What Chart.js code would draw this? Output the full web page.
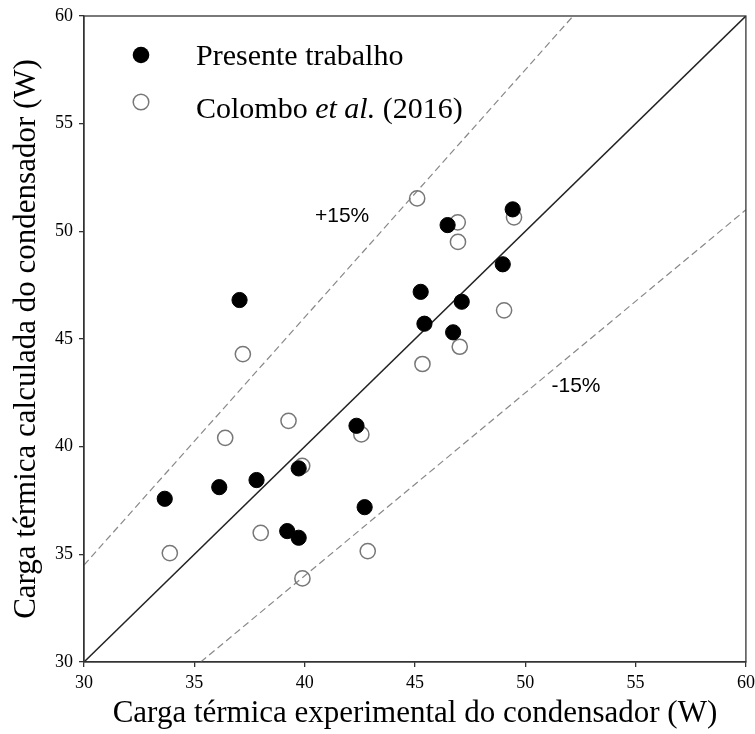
<!DOCTYPE html>
<html>
<head>
<meta charset="utf-8">
<script src="https://cdn.jsdelivr.net/npm/chart.js@4.4.1/dist/chart.umd.min.js"></script>
<style>
html,body{margin:0;padding:0;background:#fff;}
#wrap{width:755px;height:734px;}
</style>
</head>
<body>
<div id="wrap"><canvas id="c" width="755" height="734"></canvas></div>
<script>
// Presente trabalho (filled)
const presenteX = [33.66, 36.13, 37.82, 39.73, 42.35, 42.72, 39.21, 39.73, 37.05, 46.48, 49.43, 48.98, 45.26, 47.12, 45.43, 46.73];
const presenteY = [37.58, 38.12, 38.45, 38.99, 40.97, 37.19, 36.08, 35.77, 46.81, 50.29, 51.02, 48.47, 47.19, 46.73, 45.71, 45.31];
// Colombo et al. (2016) (open)
const colomboX = [39.27, 36.40, 42.57, 39.89, 38.01, 33.89, 39.90, 42.86, 37.20, 45.10, 46.94, 46.95, 49.49, 49.04, 47.03, 45.34];
const colomboY = [41.20, 40.41, 40.57, 39.11, 36.00, 35.06, 33.88, 35.15, 44.30, 51.53, 50.42, 49.51, 50.65, 46.33, 44.64, 43.84];
// Reference lines (y = x, ±15%)
const refX = [30, 60];
const refY = [30, 60];
const plusX = [30, 52.17];
const plusY = [34.5, 60];
const minusX = [35.29, 60];
const minusY = [30, 51];
const ticks = [30, 35, 40, 45, 50, 55, 60];
const legendLabels = ["Presente trabalho", "Colombo", "et al.", "(2016)"];
const annotLabels = [{text: "+15%", x: 41.7, y: 50.7}, {text: "-15%", x: 52.3, y: 42.8}];
const xTitle = "Carga térmica experimental do condensador (W)";
const yTitle = "Carga térmica calculada do condensador (W)";

const pts = (xs, ys) => xs.map((x, i) => ({x: x, y: ys[i]}));

const serif = "'Liberation Serif','DejaVu Serif',serif";

const decor = {
  id: 'decor',
  afterDatasetsDraw(chart) {
    const ctx = chart.ctx, a = chart.chartArea;
    const xs = chart.scales.x, ys = chart.scales.y;
    ctx.save();
    // box
    ctx.strokeStyle = '#333';
    ctx.lineWidth = 1.3;
    ctx.strokeRect(a.left, a.top, a.right - a.left, a.bottom - a.top);
    // annotations
    ctx.fillStyle = '#000';
    ctx.font = "21px 'Liberation Sans', Arial, sans-serif";
    ctx.textAlign = 'center';
    ctx.textBaseline = 'middle';
    annotLabels.forEach(l => ctx.fillText(l.text, xs.getPixelForValue(l.x), ys.getPixelForValue(l.y)));
    // legend
    const mx = 141, tx = 196, y1 = 55, y2 = 102;
    ctx.beginPath();
    ctx.arc(mx, y1, 8.3, 0, Math.PI * 2);
    ctx.fillStyle = '#000';
    ctx.fill();
    ctx.beginPath();
    ctx.arc(mx, y2, 7.8, 0, Math.PI * 2);
    ctx.strokeStyle = '#777';
    ctx.lineWidth = 1.5;
    ctx.stroke();
    ctx.fillStyle = '#000';
    ctx.textAlign = 'left';
    ctx.textBaseline = 'alphabetic';
    ctx.font = "30px " + serif;
    ctx.fillText(legendLabels[0], tx, 65);
    let x = tx;
    ctx.fillText(legendLabels[1] + ' ', x, 118);
    x += ctx.measureText(legendLabels[1] + ' ').width;
    ctx.font = "italic 30px " + serif;
    ctx.fillText(legendLabels[2] + ' ', x, 118);
    x += ctx.measureText(legendLabels[2] + ' ').width;
    ctx.font = "30px " + serif;
    ctx.fillText(legendLabels[3], x, 118);
    ctx.restore();
  }
};

new Chart(document.getElementById('c'), {
  type: 'scatter',
  data: {
    datasets: [
      {label: 'y=x', type: 'line', data: pts(refX, refY), borderColor: '#222', borderWidth: 1.5, pointRadius: 0, fill: false, order: 5},
      {label: '+15%', type: 'line', data: pts(plusX, plusY), borderColor: '#888', borderWidth: 1.2, borderDash: [7, 4], pointRadius: 0, fill: false, order: 4},
      {label: '-15%', type: 'line', data: pts(minusX, minusY), borderColor: '#888', borderWidth: 1.2, borderDash: [7, 4], pointRadius: 0, fill: false, order: 3},
      {label: 'Colombo et al. (2016)', data: pts(colomboX, colomboY), pointRadius: 7.6, pointBackgroundColor: 'rgba(255,255,255,0)', pointBorderColor: '#777', pointBorderWidth: 1.5, order: 2},
      {label: 'Presente trabalho', data: pts(presenteX, presenteY), pointRadius: 7.6, pointBackgroundColor: '#000', pointBorderColor: '#000', pointBorderWidth: 1, order: 1}
    ]
  },
  options: {
    responsive: false,
    animation: false,
    devicePixelRatio: 1,
    layout: {padding: {left: 0, right: 9, top: 16, bottom: 0}},
    plugins: {legend: {display: false}, tooltip: {enabled: false}},
    scales: {
      x: {
        type: 'linear', min: 30, max: 60,
        afterBuildTicks: s => { s.ticks = ticks.map(v => ({value: v})); },
        afterFit: s => { s.height = 72; s.paddingLeft = 0; s.paddingRight = 0; },
        grid: {display: true, drawOnChartArea: false, drawTicks: true, tickLength: 5, color: '#333', lineWidth: 1.3},
        border: {display: true, color: '#333', width: 1.3},
        ticks: {color: '#000', font: {family: serif, size: 18}, padding: 5, maxRotation: 0},
        title: {display: true, text: xTitle, color: '#000', font: {family: serif, size: 31}, padding: {top: 0, bottom: 2}}
      },
      y: {
        type: 'linear', min: 30, max: 60,
        afterBuildTicks: s => { s.ticks = ticks.map(v => ({value: v})); },
        afterFit: s => { s.width = 84; s.paddingTop = 0; s.paddingBottom = 0; },
        grid: {display: true, drawOnChartArea: false, drawTicks: true, tickLength: 5, color: '#333', lineWidth: 1.3},
        border: {display: true, color: '#333', width: 1.3},
        ticks: {color: '#000', font: {family: serif, size: 18}, padding: 6},
        title: {display: true, text: yTitle, color: '#000', font: {family: serif, size: 31}, padding: {top: 8, bottom: 0}}
      }
    }
  },
  plugins: [decor]
});
</script>
</body>
</html>
